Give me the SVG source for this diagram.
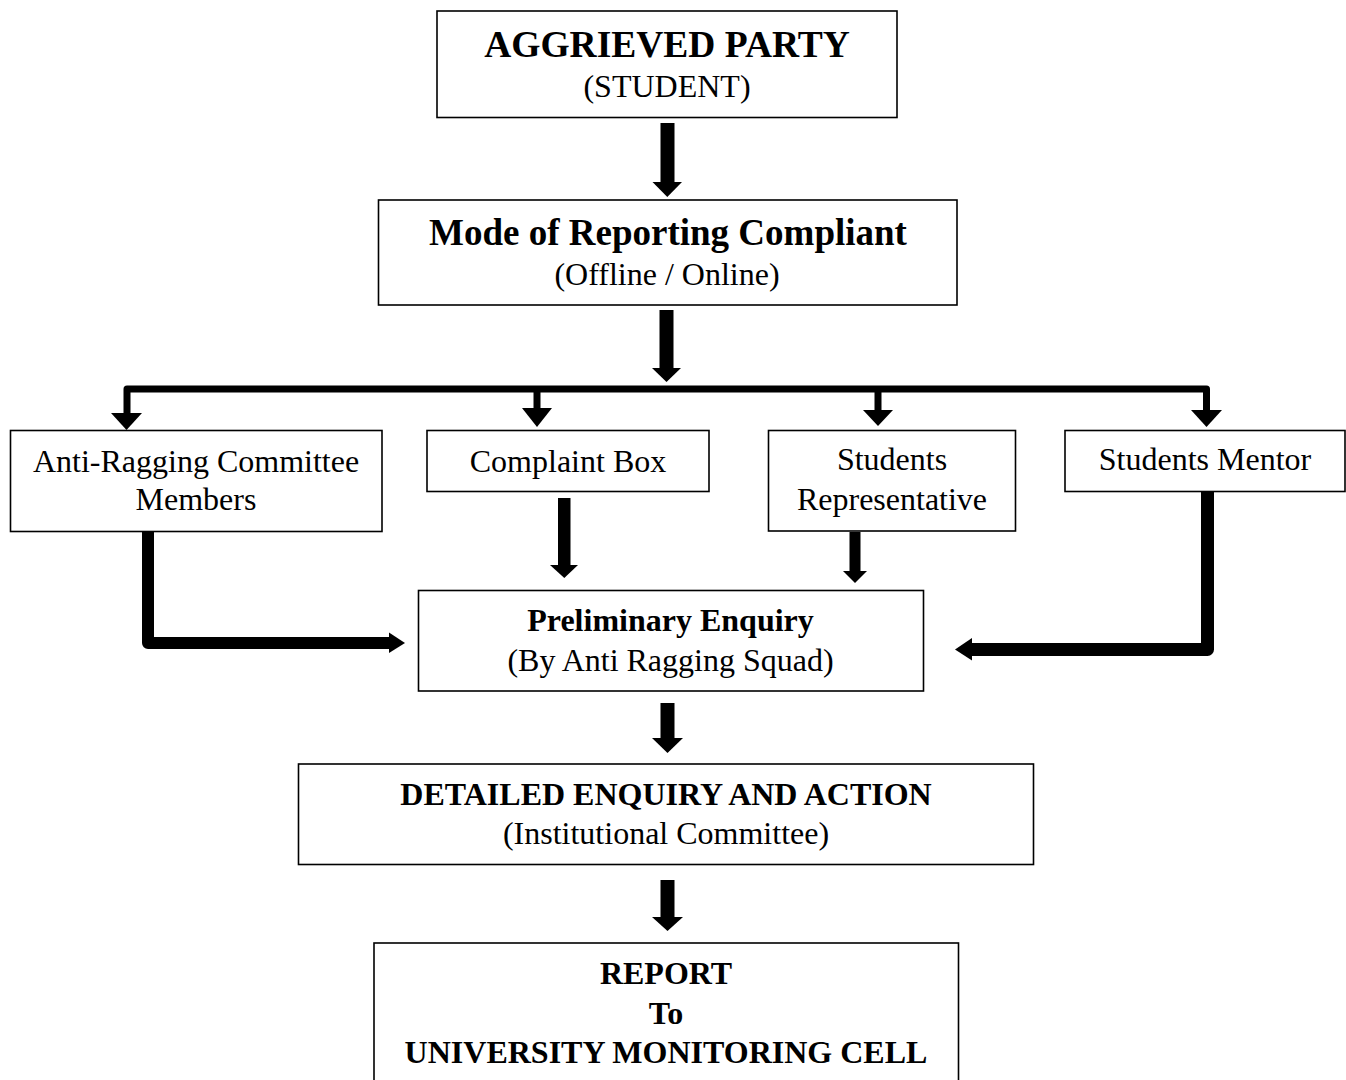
<svg xmlns="http://www.w3.org/2000/svg" width="1346" height="1080" viewBox="0 0 1346 1080">
<style>
.box{fill:#fff;stroke:#000;stroke-width:1.6}
.t{font-family:"Liberation Serif","Times New Roman",serif;font-size:32px;fill:#000;text-anchor:middle}
.b{font-weight:bold}
.big{font-size:37.5px}
.ln{fill:none;stroke:#000;stroke-linejoin:round}
.hd{fill:#000}
</style>
<rect width="1346" height="1080" fill="#fff"/>
<g id="connectors">
  <rect x="660.5" y="123" width="14" height="60" class="hd"/>
  <polygon points="652.5,182 682,182 667.3,197" class="hd"/>
  <rect x="659.5" y="310" width="14" height="59" class="hd"/>
  <polygon points="652,368 681,368 666.5,382" class="hd"/>
  <path d="M127,414 V389 H1206.5 V411" class="ln" stroke-width="7"/>
  <polygon points="111,413 142,413 126.5,430" class="hd"/>
  <line x1="537" y1="389" x2="537" y2="409" stroke="#000" stroke-width="7"/>
  <polygon points="522,408 552,408 537,427" class="hd"/>
  <line x1="878" y1="389" x2="878" y2="411" stroke="#000" stroke-width="7"/>
  <polygon points="863,410 893,410 878,426" class="hd"/>
  <polygon points="1191,410 1222,410 1206.5,427" class="hd"/>
  <path d="M148,532 V643 H390" class="ln" stroke-width="12"/>
  <polygon points="389,632.5 389,653 405,643" class="hd"/>
  <path d="M1207.5,490 V649.5 H972" class="ln" stroke-width="13"/>
  <polygon points="972,638 972,660.5 955,649.5" class="hd"/>
  <rect x="558" y="498" width="12.5" height="68" class="hd"/>
  <polygon points="550,565 578,565 564.3,578" class="hd"/>
  <rect x="849.5" y="532" width="11" height="40" class="hd"/>
  <polygon points="843,571 867,571 855,583" class="hd"/>
  <rect x="660.5" y="703" width="14" height="36" class="hd"/>
  <polygon points="652,738 683,738 667.5,753" class="hd"/>
  <rect x="660.5" y="880" width="14" height="38" class="hd"/>
  <polygon points="652,917 683,917 667.5,931" class="hd"/>
</g>
<g id="aggrieved">
  <rect x="437" y="11" width="460" height="106.5" class="box"/>
  <text x="667" y="57" class="t b big">AGGRIEVED PARTY</text>
  <text x="667" y="97" class="t">(STUDENT)</text>
</g>
<g id="mode">
  <rect x="378.5" y="200" width="578.5" height="105" class="box"/>
  <text x="668" y="245" class="t b" style="font-size:37px">Mode of Reporting Compliant</text>
  <text x="667" y="285" class="t">(Offline / Online)</text>
</g>
<g id="anti">
  <rect x="10.5" y="430.5" width="371.5" height="101" class="box"/>
  <text x="196" y="471.5" class="t">Anti-Ragging Committee</text>
  <text x="196" y="510" class="t">Members</text>
</g>
<g id="complaint">
  <rect x="427" y="430.5" width="282" height="61" class="box"/>
  <text x="568" y="471.5" class="t">Complaint Box</text>
</g>
<g id="representative">
  <rect x="768.5" y="430.5" width="247" height="100.5" class="box"/>
  <text x="892" y="470" class="t">Students</text>
  <text x="892" y="510" class="t">Representative</text>
</g>
<g id="mentor">
  <rect x="1065" y="430.5" width="280" height="61" class="box"/>
  <text x="1205" y="470" class="t">Students Mentor</text>
</g>
<g id="preliminary">
  <rect x="418.5" y="590.5" width="505" height="100.5" class="box"/>
  <text x="670.5" y="630.5" class="t b">Preliminary Enquiry</text>
  <text x="670.5" y="671" class="t">(By Anti Ragging Squad)</text>
</g>
<g id="detailed">
  <rect x="298.5" y="764" width="735" height="100.5" class="box"/>
  <text x="666" y="805" class="t b">DETAILED ENQUIRY AND ACTION</text>
  <text x="666" y="844" class="t">(Institutional Committee)</text>
</g>
<g id="report">
  <rect x="374" y="943" width="584.5" height="150" class="box"/>
  <text x="666" y="984" class="t b">REPORT</text>
  <text x="666" y="1024" class="t b">To</text>
  <text x="666" y="1063" class="t b">UNIVERSITY MONITORING CELL</text>
</g>
</svg>
